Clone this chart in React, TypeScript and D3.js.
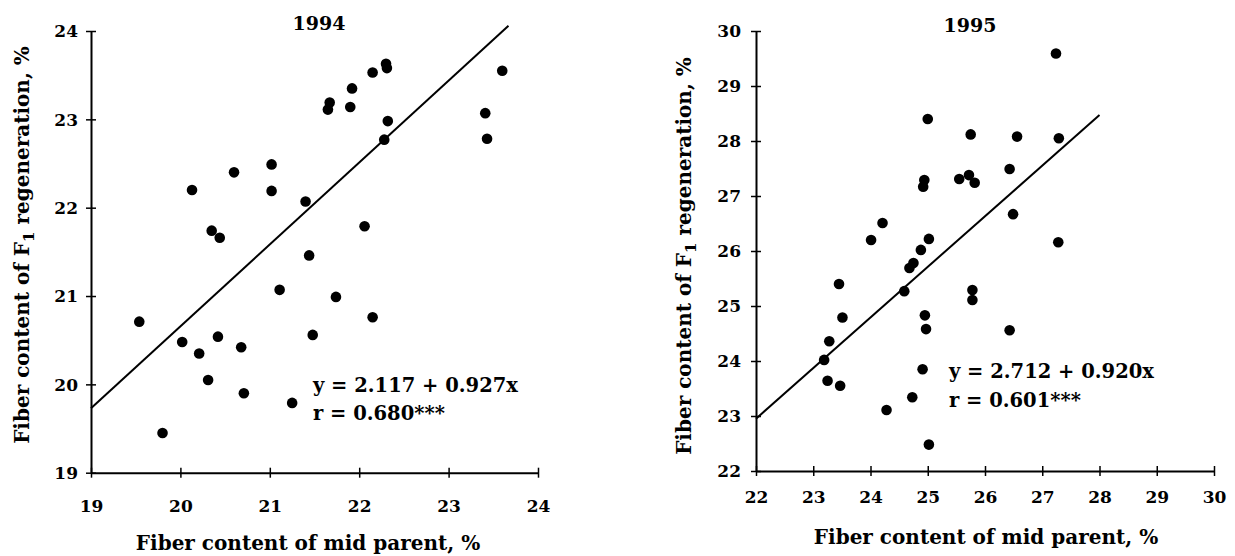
import React, { useEffect, useRef } from "react";
import * as d3 from "d3";

const W = 1235;
const H = 556;
const FONT = "'DejaVu Serif', serif";

// 1994 panel
const x94 = [20.13, 20.35, 20.44, 20.60, 21.02, 21.02, 21.40, 21.44, 21.65, 21.67, 21.90, 21.92, 22.06, 22.15, 22.30, 22.31, 22.32, 22.28,
  23.60, 23.41, 23.43, 19.54, 19.80, 20.02, 20.21, 20.31, 20.42, 20.68, 20.71, 21.11, 21.25, 21.48, 21.74, 22.15];
const y94 = [22.20, 21.74, 21.66, 22.40, 22.49, 22.19, 22.07, 21.46, 23.11, 23.19, 23.14, 23.35, 21.79, 23.53, 23.63, 23.58, 22.98, 22.77,
  23.55, 23.07, 22.78, 20.71, 19.45, 20.48, 20.35, 20.05, 20.54, 20.42, 19.90, 21.07, 19.79, 20.56, 20.99, 20.76];
const ticks94 = [19, 20, 21, 22, 23, 24];
const fit94 = [2.117, 0.927, 19, 23.67]; // intercept, slope, from, to
const eq94 = ["y = 2.117 + 0.927x", "r = 0.680***"];

// 1995 panel
const x95 = [25.00, 24.94, 24.92, 25.55, 25.72, 25.82, 24.01, 24.21, 25.02, 24.88, 24.75, 24.68, 27.24, 25.75, 26.56, 27.29, 26.43, 26.49,
  27.28, 25.78, 25.78, 26.43, 24.95, 24.97, 24.91, 24.73, 25.02, 24.59, 23.45, 23.51, 23.28, 23.19, 23.25, 23.47, 24.28];
const y95 = [28.40, 27.29, 27.17, 27.31, 27.38, 27.24, 26.20, 26.51, 26.22, 26.02, 25.78, 25.69, 29.59, 28.12, 28.08, 28.05, 27.49, 26.67,
  26.16, 25.29, 25.11, 24.56, 24.83, 24.58, 23.85, 23.34, 22.48, 25.27, 25.40, 24.79, 24.36, 24.02, 23.64, 23.55, 23.11];
const xTicks95 = [22, 23, 24, 25, 26, 27, 28, 29, 30];
const yTicks95 = [22, 23, 24, 25, 26, 27, 28, 29, 30];
const fit95 = [2.712, 0.920, 22, 28];
const eq95 = ["y = 2.712 + 0.920x", "r = 0.601***"];

const xTitle = "Fiber content of mid parent, %";

type Panel = {
  xs: number[]; ys: number[]; xTicks: number[]; yTicks: number[]; fit: number[]; eq: string[]; year: string;
  left: number; right: number; top: number; bottom: number;
  xLabelOff: number; yLabelOff: number; titleX: number; titleY: number;
  eqX: number; eqY: number; eqGap: number; xTitleX: number; xTitleY: number; yTitleX: number; yTitleY: number;
};

function drawPanel(svg: any, p: Panel) {
  const x = d3.scaleLinear().domain(d3.extent(p.xTicks) as [number, number]).range([p.left, p.right]);
  const y = d3.scaleLinear().domain(d3.extent(p.yTicks) as [number, number]).range([p.bottom, p.top]);
  const g = svg.append("g").attr("font-family", FONT).attr("font-weight", "bold").attr("fill", "#000");

  const gx = g.append("g").attr("transform", `translate(0,${p.bottom})`)
    .call(d3.axisBottom(x).tickValues(p.xTicks).tickSize(5).tickSizeOuter(0).tickFormat(d3.format("d")));
  gx.selectAll(".tick line").attr("y1", -5).attr("stroke-width", 1.5);
  gx.selectAll(".tick text").attr("y", p.xLabelOff).attr("dy", "0.35em");

  const gy = g.append("g").attr("transform", `translate(${p.left},0)`)
    .call(d3.axisLeft(y).tickValues(p.yTicks).tickSize(5).tickSizeOuter(0).tickFormat(d3.format("d")));
  gy.selectAll(".tick line").attr("x1", 5).attr("stroke-width", 1.5);
  gy.selectAll(".tick text").attr("x", p.yLabelOff).attr("dy", "0.35em");

  [gx, gy].forEach((a) => {
    a.attr("font-family", FONT).attr("font-size", 17).attr("font-weight", "bold");
    a.select(".domain").attr("stroke-width", 2);
  });

  const [a, b, from, to] = p.fit;
  const line = d3.line<number>().x((v) => x(v)).y((v) => y(a + b * v));
  g.append("path").datum([from, to]).attr("d", line).attr("fill", "none").attr("stroke", "#000").attr("stroke-width", 2);

  g.append("g").selectAll("circle").data(p.xs).join("circle")
    .attr("cx", (d: number) => x(d)).attr("cy", (_: number, i: number) => y(p.ys[i])).attr("r", 5.3);

  g.append("text").attr("x", p.titleX).attr("y", p.titleY).attr("text-anchor", "middle").attr("dy", "0.35em")
    .attr("font-size", 19).text(p.year);

  p.eq.forEach((t, i) => {
    g.append("text").attr("x", p.eqX).attr("y", p.eqY + i * p.eqGap).attr("font-size", 19.5).text(t);
  });

  g.append("text").attr("x", p.xTitleX).attr("y", p.xTitleY).attr("text-anchor", "middle").attr("dy", "0.35em")
    .attr("font-size", 20).text(xTitle);

  const yt = g.append("text").attr("transform", `translate(${p.yTitleX},${p.yTitleY}) rotate(-90)`)
    .attr("text-anchor", "middle").attr("dy", "0.35em").attr("font-size", 20);
  yt.append("tspan").text("Fiber content of F");
  yt.append("tspan").attr("font-size", 15).attr("dy", 5).text("1");
  yt.append("tspan").attr("dy", -5).text(" regeneration, %");
}

export default function App() {
  const ref = useRef<SVGSVGElement>(null);
  useEffect(() => {
    const svg = d3.select(ref.current);
    svg.selectAll("*").remove();
    svg.append("rect").attr("width", W).attr("height", H).attr("fill", "#fff");
    drawPanel(svg, {
      xs: x94, ys: y94, xTicks: ticks94, yTicks: ticks94, fit: fit94, eq: eq94, year: "1994",
      left: 91, right: 538, top: 31, bottom: 472.7, xLabelOff: 33, yLabelOff: -13,
      titleX: 319, titleY: 23, eqX: 313, eqY: 392, eqGap: 28,
      xTitleX: 308, xTitleY: 543, yTitleX: 22, yTitleY: 245,
    });
    drawPanel(svg, {
      xs: x95, ys: y95, xTicks: xTicks95, yTicks: yTicks95, fit: fit95, eq: eq95, year: "1995",
      left: 756, right: 1214, top: 31, bottom: 471, xLabelOff: 26, yLabelOff: -15,
      titleX: 970, titleY: 25, eqX: 949, eqY: 378, eqGap: 29,
      xTitleX: 986, xTitleY: 537, yTitleX: 684, yTitleY: 256,
    });
  }, []);
  return <svg ref={ref} width={W} height={H} style={{ position: "absolute", left: 0, top: 0 }} />;
}
